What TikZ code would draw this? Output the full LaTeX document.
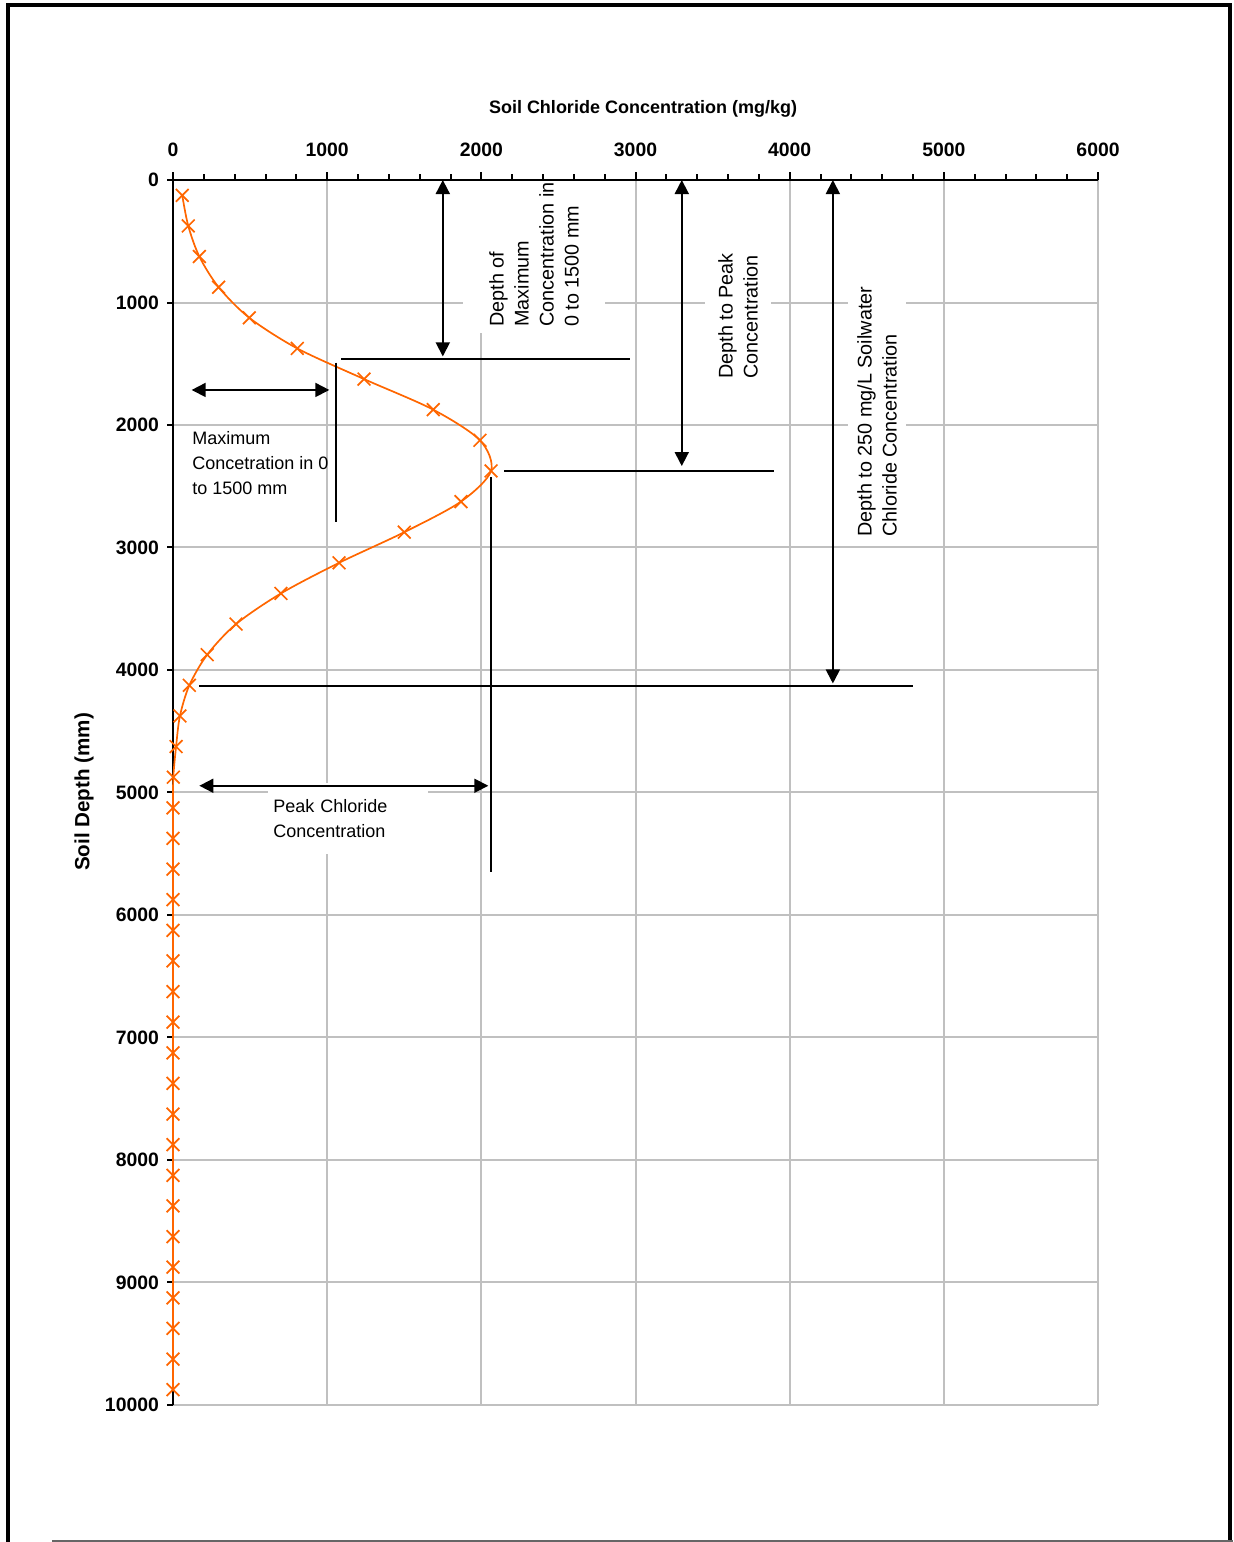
\documentclass[tikz,border=0pt]{standalone}
\usepackage{fontspec}
\setmainfont{Liberation Sans}
\usetikzlibrary{arrows.meta}

\definecolor{curveorange}{HTML}{FF6600}
\definecolor{gridgray}{HTML}{C0C0C0}

\tikzset{
  gridline/.style={draw=gridgray,line width=1pt},
  axisline/.style={line width=1pt},
  curve/.style={curveorange,line width=0.85pt},
  dimarrow/.style={line width=0.9pt,{Triangle[length=7pt,width=7pt]}-{Triangle[length=7pt,width=7pt]}},
  dimline/.style={line width=0.9pt},
  note/.style={font=\fontsize{9}{12.5}\selectfont,align=left},
  notebox/.style={note,fill=white},
  sidebox/.style={notebox,rotate=90,anchor=west,font=\fontsize{9.9}{12.5}\selectfont},
  ticklabel/.style={font=\fontsize{9.7}{11}\selectfont\bfseries},
  axistitle/.style={font=\fontsize{9}{11}\selectfont\bfseries},
}

\begin{document}
\begin{tikzpicture}[x=0.5pt,y=-0.5pt]
  \useasboundingbox (0,0) rectangle (1233,1542);
  % page frame
  \draw[line width=1.8pt] (8,1542) -- (8,5) -- (1230,5) -- (1230,1542);
  \draw[black!60,line width=0.6pt] (52,1541) -- (1233,1541);

  \begin{scope}[xshift=86.5pt,yshift=-90pt,x=0.077085pt,y=-0.06125pt]
    %% the grid
    \foreach \c in {1000,2000,...,6000}
      \draw[gridline] (\c,0) -- (\c,10000);
    \foreach \d in {1000,2000,...,10000}
      \draw[gridline] (0,\d) -- (6000,\d);
  \end{scope}

  % text boxes (white, they hide the grid)
  \node[sidebox,inner xsep=3pt,inner ysep=13pt] (depthmaxlbl) at (534,333)
    {Depth of\\Maximum\\Concentration in\\0 to 1500 mm};
  \node[sidebox,inner xsep=3pt,inner ysep=6.5pt] (depthpeaklbl) at (738,385)
    {Depth to Peak\\Concentration};
  \node[sidebox,inner xsep=3pt,inner ysep=4.5pt] (depth250lbl) at (877,543)
    {Depth to 250 mg/L Soilwater\\Chloride Concentration};
  \node[notebox,anchor=north west,inner xsep=2.5pt,inner ysep=8pt,text width=75pt] (peaklbl) at (268,783)
    {Peak Chloride\\Concentration};
  \node[note,anchor=north west,inner sep=0pt] (maxlbl) at (192,431)
    {Maximum\\Concetration in 0\\to 1500 mm};

  % axis titles
  \node[axistitle] (xtitle) at (643,109) {Soil Chloride Concentration (mg/kg)};
  \node[axistitle,rotate=90,font=\fontsize{10.3}{12}\selectfont\bfseries] (ytitle) at (84,792) {Soil Depth (mm)};

  \begin{scope}[xshift=86.5pt,yshift=-90pt,x=0.077085pt,y=-0.06125pt]
    %% axes and ticks
    \draw[axisline] (0,10000) -- (0,0) -- (6000,0);
    \foreach \c in {200,400,...,5800}
      \draw[axisline] (\c,0) -- +(0pt,3pt);
    \foreach \c in {0,1000,...,6000}
    {
      \draw[axisline] (\c,0) -- +(0pt,4pt);
      \node[ticklabel] (xt\c) at ([yshift=15pt]\c,0) {\c};
    }
    \foreach \d in {0,1000,...,10000}
    {
      \draw[axisline] (0,\d) -- +(-3pt,0pt);
      \node[ticklabel,anchor=east] (yt\d) at ([xshift=-3.5pt]0,\d) {\d};
    }

    %% the profile
    \draw[curve] plot[smooth,mark=x,mark size=4.5pt,mark options={curveorange}] coordinates {
      (60,125) (99,375) (171,625) (296,875) (495,1125) (806,1375) (1239,1625)
      (1688,1875) (1991,2125) (2063,2375) (1868,2625) (1500,2875) (1077,3125)
      (700,3375) (409,3625) (222,3875) (106,4125) (45,4375) (20,4625) (2,4875)
      (0,5125)};
    \draw[curve] (0,5125) -- (0,9875);
    \foreach \d in {5375,5625,...,9875}
      \draw[curve] plot[mark=x,mark size=4.5pt,mark options={curveorange}] coordinates {(0,\d)};

    %% depth of maximum in 0-1500
    \coordinate (dmtop) at (1750,0);
    \coordinate (dmbot) at (1750,1440);
    \coordinate (dmlineL) at (1090,1458);
    \coordinate (dmlineR) at (2964,1458);
    \draw[dimarrow] (dmtop) -- (dmbot);
    \draw[dimline] (dmlineL) -- (dmlineR);

    %% depth to peak
    \coordinate (dptop) at (3300,0);
    \coordinate (dpbot) at (3300,2335);
    \coordinate (dplineL) at (2147,2373);
    \coordinate (dplineR) at (3898,2373);
    \draw[dimarrow] (dptop) -- (dpbot);
    \draw[dimline] (dplineL) -- (dplineR);

    %% depth to 250 mg/L
    \coordinate (dctop) at (4280,0);
    \coordinate (dcbot) at (4280,4110);
    \coordinate (dclineL) at (169,4131);
    \coordinate (dclineR) at (4800,4131);
    \draw[dimarrow] (dctop) -- (dcbot);
    \draw[dimline] (dclineL) -- (dclineR);

    %% peak concentration
    \coordinate (pktop) at (2063,2424);
    \coordinate (pkbot) at (2063,5649);
    \coordinate (pkL) at (171,4945);
    \coordinate (pkR) at (2045,4945);
    \draw[dimline] (pktop) -- (pkbot);
    \draw[dimarrow] (pkL) -- (pkR);

    %% maximum in 0-1500
    \coordinate (mxtop) at (1055,1491);
    \coordinate (mxbot) at (1055,2794);
    \coordinate (mxL) at (121,1714);
    \coordinate (mxR) at (1014,1714);
    \draw[dimline] (mxtop) -- (mxbot);
    \draw[dimarrow] (mxL) -- (mxR);
  \end{scope}
\end{tikzpicture}
\end{document}
